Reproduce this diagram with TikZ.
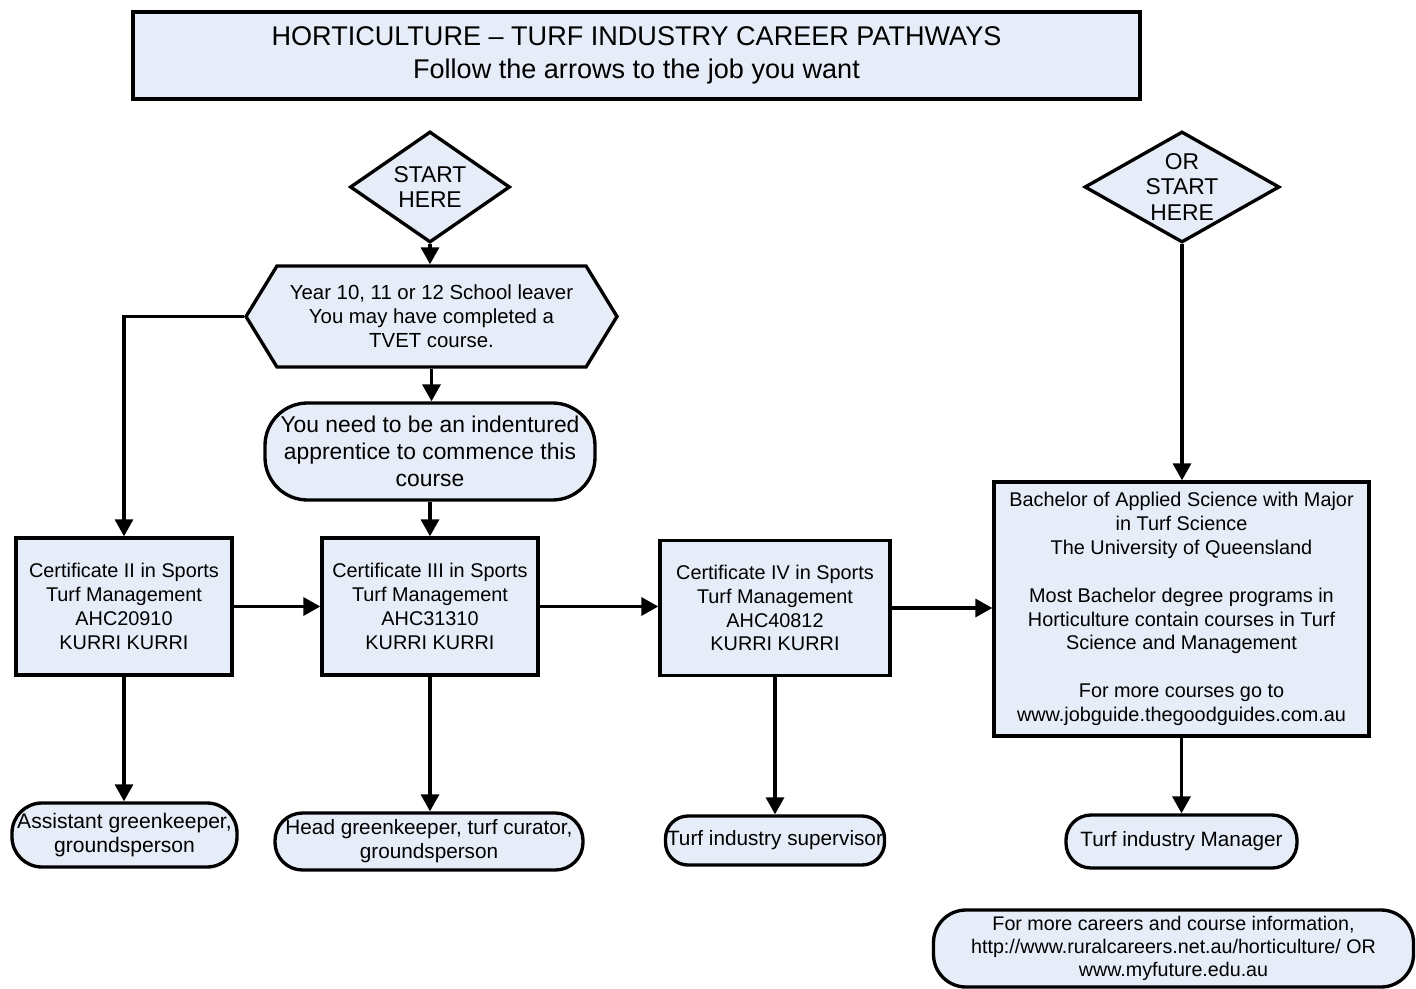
\documentclass[tikz,border=0pt]{standalone}
\usepackage{fontspec}
\setmainfont{Liberation Sans}
\usetikzlibrary{positioning,shapes,arrows.meta}
\definecolor{boxblue}{RGB}{230,237,248}

\begin{document}
\begin{tikzpicture}[
box/.style={
  draw,
  line width=1.9pt,
  fill=boxblue,
  align=center,
  inner sep=0pt,
  font=\fontsize{11.3}{13.6}\selectfont},
course/.style={box, rectangle, minimum width=4.32cm, minimum height=2.74cm},
job/.style={box, rounded corners=0.5cm, font=\fontsize{11.8}{13.8}\selectfont},
startbox/.style={box, diamond, minimum height=2.22cm, font=\fontsize{13}{14.6}\selectfont},
arr/.style={line width=1.9pt, -{Triangle[length=0.34cm,width=0.36cm]}}
]
\useasboundingbox (0,0) rectangle (28.32,19.76);
% title
\node[box, minimum width=20.14cm, minimum height=1.74cm,
  font=\fontsize{15.4}{18.5}\selectfont] (title) at (12.73,18.65)
  {HORTICULTURE -- TURF INDUSTRY CAREER PATHWAYS\\Follow the arrows to the job you want};
% start points
\node[startbox, aspect=1.44, minimum width=3.2cm] (start) at (8.60,16.02) {START\\HERE};
\node[startbox, aspect=1.76, minimum width=3.9cm] (orstart) at (23.64,16.02) {OR\\START\\HERE};
\node[box, signal, signal to=west and east, signal pointer angle=117,
  minimum width=7.42cm, minimum height=2.02cm, font=\fontsize{11.6}{13.6}\selectfont]
  (leaver) at (8.63,13.43)
  {Year 10, 11 or 12 School leaver\\You may have completed a\\TVET course.};
\node[box, rounded corners=0.85cm, minimum width=6.6cm, minimum height=1.94cm,
  font=\fontsize{13}{15.3}\selectfont] (apprentice) at (8.60,10.73)
  {You need to be an indentured\\apprentice to commence this\\course};
% courses
\node[course] (cert2) at (2.48,7.63)
  {Certificate II in Sports\\Turf Management\\AHC20910\\KURRI KURRI};
\node[course] (cert3) at (8.60,7.63)
  {Certificate III in Sports\\Turf Management\\AHC31310\\KURRI KURRI};
\node[course, minimum width=4.6cm, minimum height=2.7cm] (cert4) at (15.50,7.60)
  {Certificate IV in Sports\\Turf Management\\AHC40812\\KURRI KURRI};
\node[box, minimum width=7.5cm, minimum height=5.08cm] (bach) at (23.63,7.58)
  {Bachelor of Applied Science with Major\\in Turf Science\\The University of Queensland\\[13.6pt]
   Most Bachelor degree programs in\\Horticulture contain courses in Turf\\Science and Management\\[13.6pt]
   For more courses go to\\www.jobguide.thegoodguides.com.au};
% jobs
\node[job, rounded corners=0.6cm, minimum width=4.5cm, minimum height=1.28cm,
  font=\fontsize{12}{13.8}\selectfont] (assist) at (2.49,3.06)
  {Assistant greenkeeper,\\groundsperson};
\node[job, rounded corners=0.55cm, minimum width=6.16cm, minimum height=1.14cm] (head) at (8.58,2.93)
  {Head greenkeeper, turf curator,\\groundsperson};
\node[job, rounded corners=0.45cm, minimum width=4.38cm, minimum height=0.98cm] (superv) at (15.50,2.95)
  {Turf industry supervisor};
\node[job, minimum width=4.62cm, minimum height=1.06cm] (manager) at (23.63,2.93)
  {Turf industry Manager};
\node[job, rounded corners=0.65cm, minimum width=9.6cm, minimum height=1.54cm,
  font=\fontsize{11.2}{13.3}\selectfont] (careers) at (23.47,0.79)
  {For more careers and course information,\\http://www.ruralcareers.net.au/horticulture/ OR\\www.myfuture.edu.au};
% arrows
\draw[arr] (start.south) -- (start.south |- leaver.north);
\draw[arr] (leaver.south) -- (leaver.south |- apprentice.north);
\draw[arr] (apprentice.south) -- (cert3.north);
\draw[arr] (leaver.west) -| (cert2.north);
\draw[arr] (cert2.east) -- (cert3.west);
\draw[arr] (cert3.east) -- (cert3.east -| cert4.west);
\draw[arr] (cert4.east) -- (cert4.east -| bach.west);
\draw[arr] (orstart.south) -- (orstart.south |- bach.north);
\draw[arr] (cert2.south) -- (cert2.south |- assist.north);
\draw[arr] (cert3.south) -- (cert3.south |- head.north);
\draw[arr] (cert4.south) -- (superv.north);
\draw[arr] (bach.south) -- (manager.north);
\end{tikzpicture}
\end{document}
